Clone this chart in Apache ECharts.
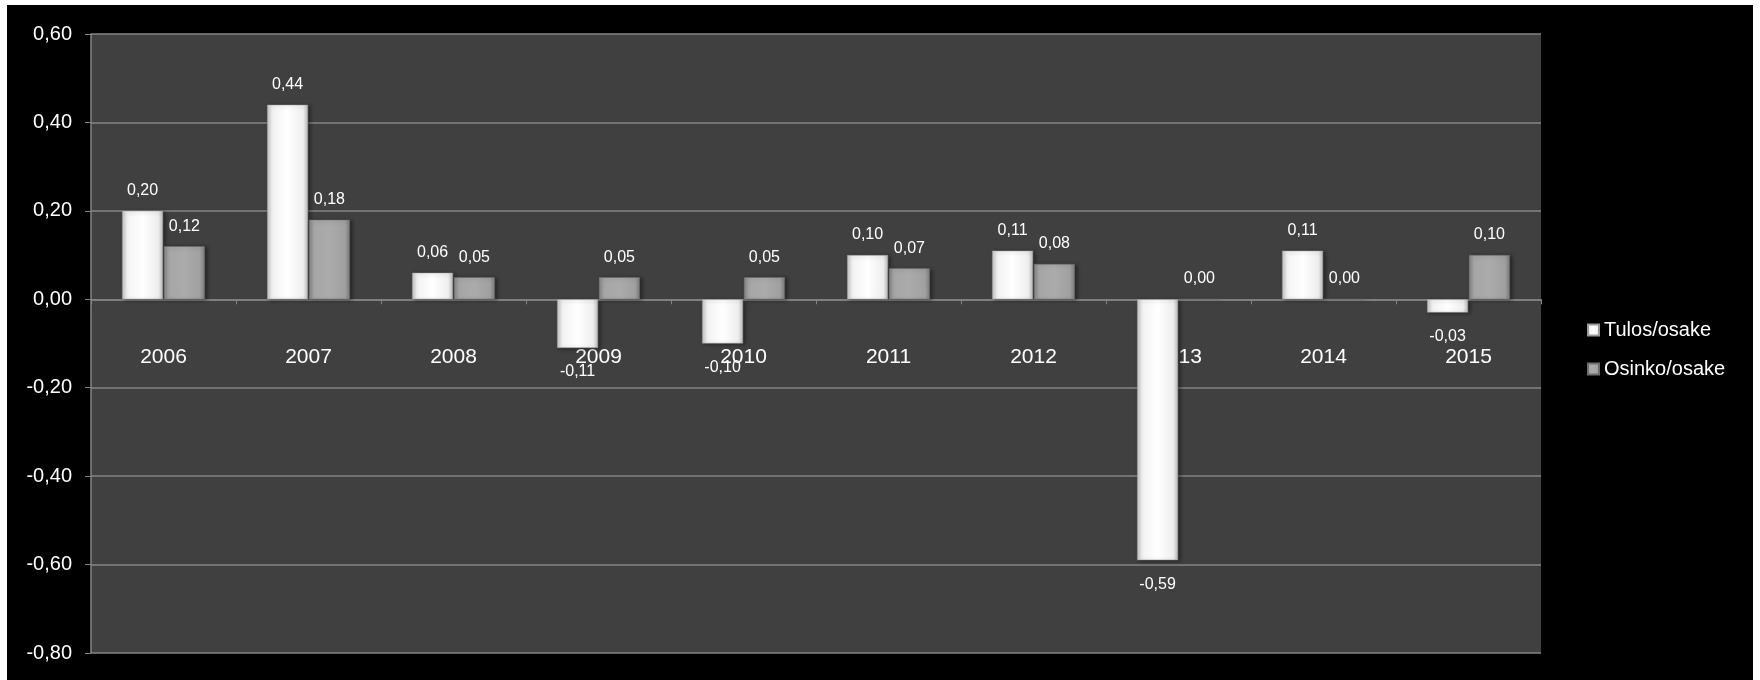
<!DOCTYPE html>
<html>
<head>
<meta charset="utf-8">
<script src="https://cdn.jsdelivr.net/npm/echarts@6/dist/echarts.min.js"></script>
<style>
html,body{margin:0;padding:0;background:#fff;}
#c{width:1760px;height:680px;}
</style>
</head>
<body>
<div id="c"></div>
<script>
const categories = ['2006','2007','2008','2009','2010','2011','2012','2013','2014','2015'];
const tulos = [0.20, 0.44, 0.06, -0.11, -0.10, 0.10, 0.11, -0.59, 0.11, -0.03];
const osinko = [0.12, 0.18, 0.05, 0.05, 0.05, 0.07, 0.08, 0.00, 0.00, 0.10];
const seriesNames = ['Tulos/osake', 'Osinko/osake'];
const yMin = -0.8, yMax = 0.6, yStep = 0.2;

const fmt = v => Number(v).toFixed(2).replace('.', ',');
const withLabelPos = arr => arr.map(v => ({ value: v, label: { position: v < 0 ? 'bottom' : 'top', distance: v < 0 ? 16 : 12 } }));

const gridTop = 34, gridBottom = 27, chartH = 680;
const gridH = chartH - gridTop - gridBottom;
const zeroOffset = -gridH * (0 - yMin) / (yMax - yMin);

const tulosColor = new echarts.graphic.LinearGradient(0, 0, 1, 0, [
  { offset: 0, color: '#c4c4c4' }, { offset: 0.12, color: '#f2f2f2' },
  { offset: 0.5, color: '#ffffff' }, { offset: 0.88, color: '#eeeeee' }, { offset: 1, color: '#b8b8b8' }
]);
const osinkoColor = new echarts.graphic.LinearGradient(0, 0, 1, 0, [
  { offset: 0, color: '#858585' }, { offset: 0.12, color: '#a6a6a6' },
  { offset: 0.5, color: '#ababab' }, { offset: 0.88, color: '#a0a0a0' }, { offset: 1, color: '#7c7c7c' }
]);

const chart = echarts.init(document.getElementById('c'), null, { renderer: 'canvas' });
const labelStyle = { show: true, color: '#ffffff', fontSize: 16, fontFamily: 'Liberation Sans, Arial, sans-serif', distance: 12, formatter: p => fmt(p.value) };

chart.setOption({
  backgroundColor: '#ffffff',
  animation: false,
  textStyle: { fontFamily: 'Liberation Sans, Arial, sans-serif' },
  graphic: [{ type: 'rect', z: -10, silent: true, shape: { x: 7, y: 5, width: 1746, height: 675 }, style: { fill: '#000000' } }],
  grid: { left: 91, right: 219, top: gridTop, bottom: gridBottom, show: true, backgroundColor: '#404040', borderWidth: 0, containLabel: false, outerBoundsMode: 'none' },
  legend: {
    orient: 'vertical', left: 1582, top: 315, itemWidth: 11, itemHeight: 11, itemGap: 19,
    icon: 'rect',
    textStyle: { color: '#ffffff', fontSize: 20, fontFamily: 'Liberation Sans, Arial, sans-serif' },
    data: seriesNames
  },
  xAxis: {
    type: 'category', data: categories, position: 'bottom', offset: zeroOffset,
    axisLine: { onZero: false, lineStyle: { color: '#858585', width: 1.5 } },
    axisTick: { show: true, length: 5, lineStyle: { color: '#858585' } },
    axisLabel: { color: '#ffffff', fontSize: 21, margin: 47 },
    splitLine: { show: false }
  },
  yAxis: {
    type: 'value', min: yMin, max: yMax, interval: yStep,
    axisLine: { show: true, lineStyle: { color: '#858585', width: 1.5 } },
    axisTick: { show: true, length: 6, lineStyle: { color: '#858585' } },
    axisLabel: { color: '#ffffff', fontSize: 20, margin: 19, formatter: v => fmt(v) },
    splitLine: { show: true, lineStyle: { color: '#858585', width: 1.5 } }
  },
  series: [
    {
      name: seriesNames[0], type: 'bar', data: withLabelPos(tulos), barWidth: 41, barGap: '2%',
      itemStyle: { color: tulosColor, borderColor: '#9a9a9a', borderWidth: 0.5, shadowColor: 'rgba(0,0,0,0.45)', shadowBlur: 4, shadowOffsetX: 2, shadowOffsetY: 1 },
      label: labelStyle
    },
    {
      name: seriesNames[1], type: 'bar', data: withLabelPos(osinko), barWidth: 41, barGap: '2%',
      itemStyle: { color: osinkoColor, borderColor: '#6e6e6e', borderWidth: 0.5, shadowColor: 'rgba(0,0,0,0.45)', shadowBlur: 4, shadowOffsetX: 2, shadowOffsetY: 1 },
      label: labelStyle
    }
  ]
});
</script>
</body>
</html>
